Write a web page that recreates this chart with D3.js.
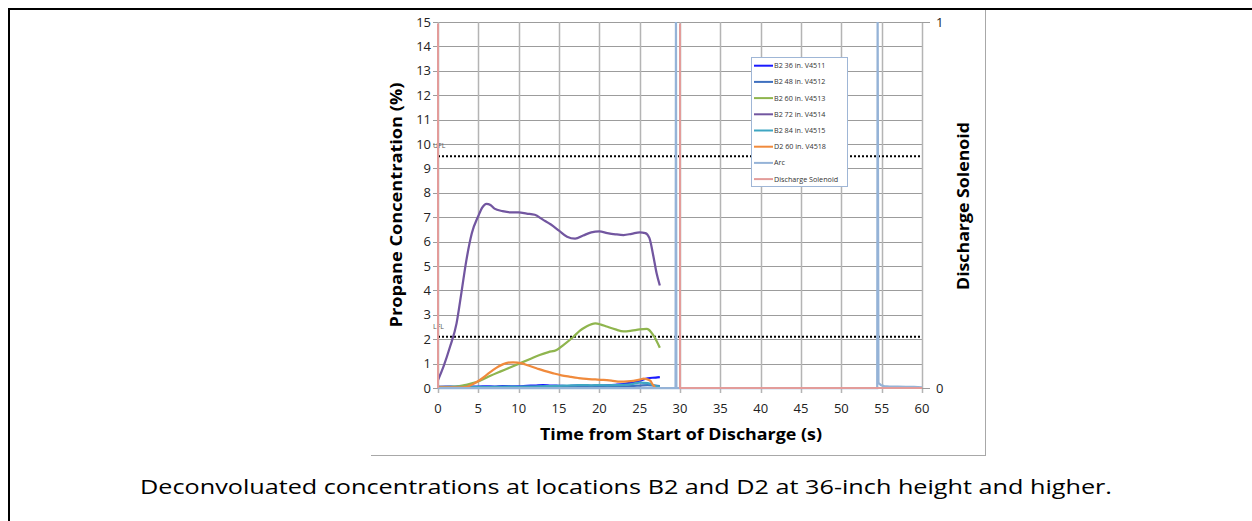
<!DOCTYPE html>
<html><head><meta charset="utf-8">
<script src="https://cdn.jsdelivr.net/npm/d3@7"></script>
<style>body{margin:0;background:#fff}svg{display:block}</style>
</head><body>
<svg id="c" width="1252" height="521"></svg>
<script>
// ---- data ----
const xTicks = [0,5,10,15,20,25,30,35,40,45,50,55,60];
const yTicks = [0,1,2,3,4,5,6,7,8,9,10,11,12,13,14,15];
const y2Ticks = [0,1];
const limits = [{name:"UFL", value:9.5},{name:"LFL", value:2.1}];

const lowTimes = [0,1,2,3,4,5,6,7,8,9,10,11,12,13,14,15,16,17,18,19,20,21,22,23,24,25,26,27,27.5];
const b2_36 = [0.05,0.06,0.05,0.07,0.06,0.06,0.07,0.06,0.08,0.07,0.07,0.09,0.10,0.12,0.10,0.09,0.08,0.10,0.11,0.09,0.10,0.11,0.13,0.16,0.22,0.30,0.40,0.43,0.45];
const b2_48 = [0.03,0.03,0.04,0.03,0.04,0.04,0.03,0.04,0.05,0.04,0.04,0.05,0.05,0.06,0.05,0.05,0.05,0.06,0.06,0.05,0.06,0.06,0.07,0.07,0.08,0.10,0.12,0.10,0.08];
const b2_84 = [0.04,0.04,0.05,0.04,0.05,0.05,0.04,0.05,0.05,0.06,0.05,0.06,0.06,0.07,0.08,0.09,0.10,0.11,0.12,0.11,0.12,0.11,0.12,0.13,0.16,0.22,0.20,0.08,0.05];

const greenTimes = [0,1,2,3,3.5,4.3,5.2,6.5,7.7,9,10.2,11.5,12.6,13.7,14.7,15.5,16.8,17.6,18.4,19.5,20.2,20.9,22,23,24,25,25.9,26.4,26.9,27.5];
const b2_60 = [0.05,0.05,0.06,0.1,0.13,0.2,0.3,0.5,0.67,0.85,1.02,1.2,1.35,1.47,1.56,1.75,2.1,2.35,2.52,2.65,2.6,2.52,2.4,2.32,2.35,2.4,2.42,2.3,2.05,1.65];

const purpleTimes = [0,0.7,1.5,2.3,2.9,3.5,4.2,5,5.5,6,6.5,7,8,9,10,11,12,13,14,15,16,17,18,19,20,21,22,23,24,25,25.7,26.2,26.7,27.1,27.5];
const b2_72 = [0.33,0.9,1.7,2.65,3.9,5.2,6.35,7.05,7.4,7.55,7.5,7.35,7.25,7.2,7.2,7.15,7.1,6.9,6.7,6.45,6.2,6.12,6.25,6.38,6.42,6.35,6.3,6.27,6.32,6.38,6.35,6.15,5.4,4.7,4.2];

const orangeTimes = [0,1,2,3,3.6,4.3,5.2,6,6.85,7.5,8.1,8.7,9.3,10.4,11.2,12.2,13.2,14.3,15.3,16.4,17.4,18.4,19.5,20.5,21.5,22.6,23.5,24.2,25,25.5,25.9,26.3,26.6,26.9];
const d2_60 = [0.03,0.03,0.03,0.03,0.05,0.15,0.33,0.53,0.74,0.88,0.98,1.04,1.05,1.01,0.92,0.81,0.7,0.6,0.52,0.46,0.41,0.37,0.35,0.33,0.3,0.26,0.27,0.29,0.34,0.38,0.36,0.3,0.15,0.03];

const arcTimes = [0,29.45,29.5,29.55,54.45,54.5,54.6,54.9,55.3,56,57,58,59,60];
const arc = [0,0,1,0,0,1,0.014,0.008,0.005,0.004,0.004,0.003,0.003,0.002];

const solTimes = [0,0,30,30,60];
const solenoid = [0,1,1,0,0];

const seriesNames = ["B2 36 in. V4511","B2 48 in. V4512","B2 60 in. V4513","B2 72 in. V4514","B2 84 in. V4515","D2 60 in. V4518","Arc","Discharge Solenoid"];
const seriesColors = ["#1a1aff","#3f70bf","#8fb54e","#7256a0","#3fa6c2","#f08a3c","#95b3d7","#e39c9a"];

// ---- build ----
const svg = d3.select("#c");
const x = d3.scaleLinear().domain([0,60]).range([438,922]);
const y = d3.scaleLinear().domain([0,15]).range([388,22]);
const y2 = d3.scaleLinear().domain([0,1]).range([388,22]);

svg.append("defs").append("clipPath").attr("id","solclip")
  .append("rect").attr("x",430).attr("y",23.6).attr("width",500).attr("height",380);

// outer frame
svg.append("line").attr("x1",8).attr("x2",1252).attr("y1",9).attr("y2",9).attr("stroke","#000").attr("stroke-width",2);
svg.append("line").attr("x1",9).attr("x2",9).attr("y1",8).attr("y2",521).attr("stroke","#000").attr("stroke-width",2);
// chart image edges
svg.append("line").attr("x1",985.5).attr("x2",985.5).attr("y1",10).attr("y2",455.5).attr("stroke","#a8a8a8").attr("stroke-width",1);
svg.append("line").attr("x1",371).attr("x2",986).attr("y1",455.5).attr("y2",455.5).attr("stroke","#a8a8a8").attr("stroke-width",1);

// gridlines
const g = svg.append("g");
g.selectAll(".hg").data(yTicks).join("line")
  .attr("x1",433).attr("x2",922)
  .attr("y1",d=>Math.round(y(d))+0.5).attr("y2",d=>Math.round(y(d))+0.5)
  .attr("stroke","#9c9c9c").attr("stroke-width",1);
g.selectAll(".vg").data(xTicks).join("line")
  .attr("x1",d=>Math.round(x(d))+0.5).attr("x2",d=>Math.round(x(d))+0.5)
  .attr("y1",22).attr("y2",393)
  .attr("stroke","#b4b4b4").attr("stroke-width",1.5);
// right axis ticks
svg.selectAll(".rt").data(y2Ticks).join("line")
  .attr("x1",922).attr("x2",930)
  .attr("y1",d=>Math.round(y2(d))+0.5).attr("y2",d=>Math.round(y2(d))+0.5)
  .attr("stroke","#9c9c9c");

// limit lines
svg.selectAll(".lim").data(limits).join("line")
  .attr("x1",438).attr("x2",922)
  .attr("y1",d=>y(d.value)).attr("y2",d=>y(d.value))
  .attr("stroke","#000").attr("stroke-width",2).attr("stroke-dasharray","2,2");
svg.selectAll(".limt").data(limits).join("text")
  .attr("x",433).attr("y",d=>y(d.value)-8)
  .attr("font-family","Open Sans, sans-serif").attr("font-size",7).attr("fill","#555")
  .text(d=>d.name);

// series
const smooth = d3.line().x(d=>x(d[0])).y(d=>y(d[1])).curve(d3.curveMonotoneX);
const straight2 = d3.line().x(d=>x(d[0])).y(d=>y2(d[1]));
function zip(t,v){return t.map((tt,i)=>[tt,v[i]]);}
const primary = [
  [lowTimes,b2_36,0],[lowTimes,b2_48,1],[greenTimes,b2_60,2],[purpleTimes,b2_72,3],[lowTimes,b2_84,4],[orangeTimes,d2_60,5]
];
primary.forEach(([t,v,i])=>{
  svg.append("path").attr("d",smooth(zip(t,v))).attr("fill","none")
    .attr("stroke",seriesColors[i]).attr("stroke-width",2.25).attr("stroke-linejoin","round");
});
svg.append("path").attr("d",straight2(zip(arcTimes,arc))).attr("fill","none")
  .attr("stroke",seriesColors[6]).attr("stroke-width",2.25);
svg.append("path").attr("d",straight2(zip(solTimes,solenoid))).attr("fill","none")
  .attr("clip-path","url(#solclip)")
  .attr("stroke",seriesColors[7]).attr("stroke-width",2);

// tick labels
const font = "Open Sans, sans-serif";
svg.selectAll(".yl").data(yTicks).join("text")
  .attr("x",431).attr("y",d=>y(d)+4.5).attr("text-anchor","end")
  .attr("font-family",font).attr("font-size",13).attr("fill","#222").text(d=>d);
svg.selectAll(".xl").data(xTicks).join("text")
  .attr("x",d=>x(d)).attr("y",413).attr("text-anchor","middle")
  .attr("font-family",font).attr("font-size",13).attr("fill","#222").text(d=>d);
svg.selectAll(".y2l").data(y2Ticks).join("text")
  .attr("x",936).attr("y",d=>y2(d)+4.5).attr("text-anchor","start")
  .attr("font-family",font).attr("font-size",13).attr("fill","#222").text(d=>d);

// axis titles
svg.append("text").attr("transform","translate(402,205) rotate(-90)").attr("text-anchor","middle")
  .attr("font-family",font).attr("font-weight","bold").attr("font-size",16).attr("fill","#000")
  .attr("textLength",245).attr("lengthAdjust","spacingAndGlyphs").text("Propane Concentration (%)");
svg.append("text").attr("transform","translate(969,206) rotate(-90)").attr("text-anchor","middle")
  .attr("font-family",font).attr("font-weight","bold").attr("font-size",16).attr("fill","#000")
  .attr("textLength",168).attr("lengthAdjust","spacingAndGlyphs").text("Discharge Solenoid");
svg.append("text").attr("x",681).attr("y",440).attr("text-anchor","middle")
  .attr("font-family",font).attr("font-weight","bold").attr("font-size",16).attr("fill","#000")
  .attr("textLength",282).attr("lengthAdjust","spacingAndGlyphs").text("Time from Start of Discharge (s)");

// legend
const lg = svg.append("g");
lg.append("rect").attr("x",751.5).attr("y",57.5).attr("width",96).attr("height",129)
  .attr("fill","#fff").attr("stroke","#9fb6d6").attr("stroke-width",1);
seriesNames.forEach((n,i)=>{
  const yy = 65.7 + i*16.2;
  lg.append("line").attr("x1",754).attr("x2",773).attr("y1",yy).attr("y2",yy)
    .attr("stroke",seriesColors[i]).attr("stroke-width",2);
  lg.append("text").attr("x",774).attr("y",yy+2.5).attr("font-family",font).attr("font-size",7.2)
    .attr("fill","#333").text(n);
});

// caption
svg.append("text").attr("x",626).attr("y",494).attr("text-anchor","middle")
  .attr("font-family",font).attr("font-size",20).attr("fill","#000")
  .attr("textLength",972).attr("lengthAdjust","spacingAndGlyphs")
  .text("Deconvoluated concentrations at locations B2 and D2 at 36-inch height and higher.");
</script>
</body></html>
